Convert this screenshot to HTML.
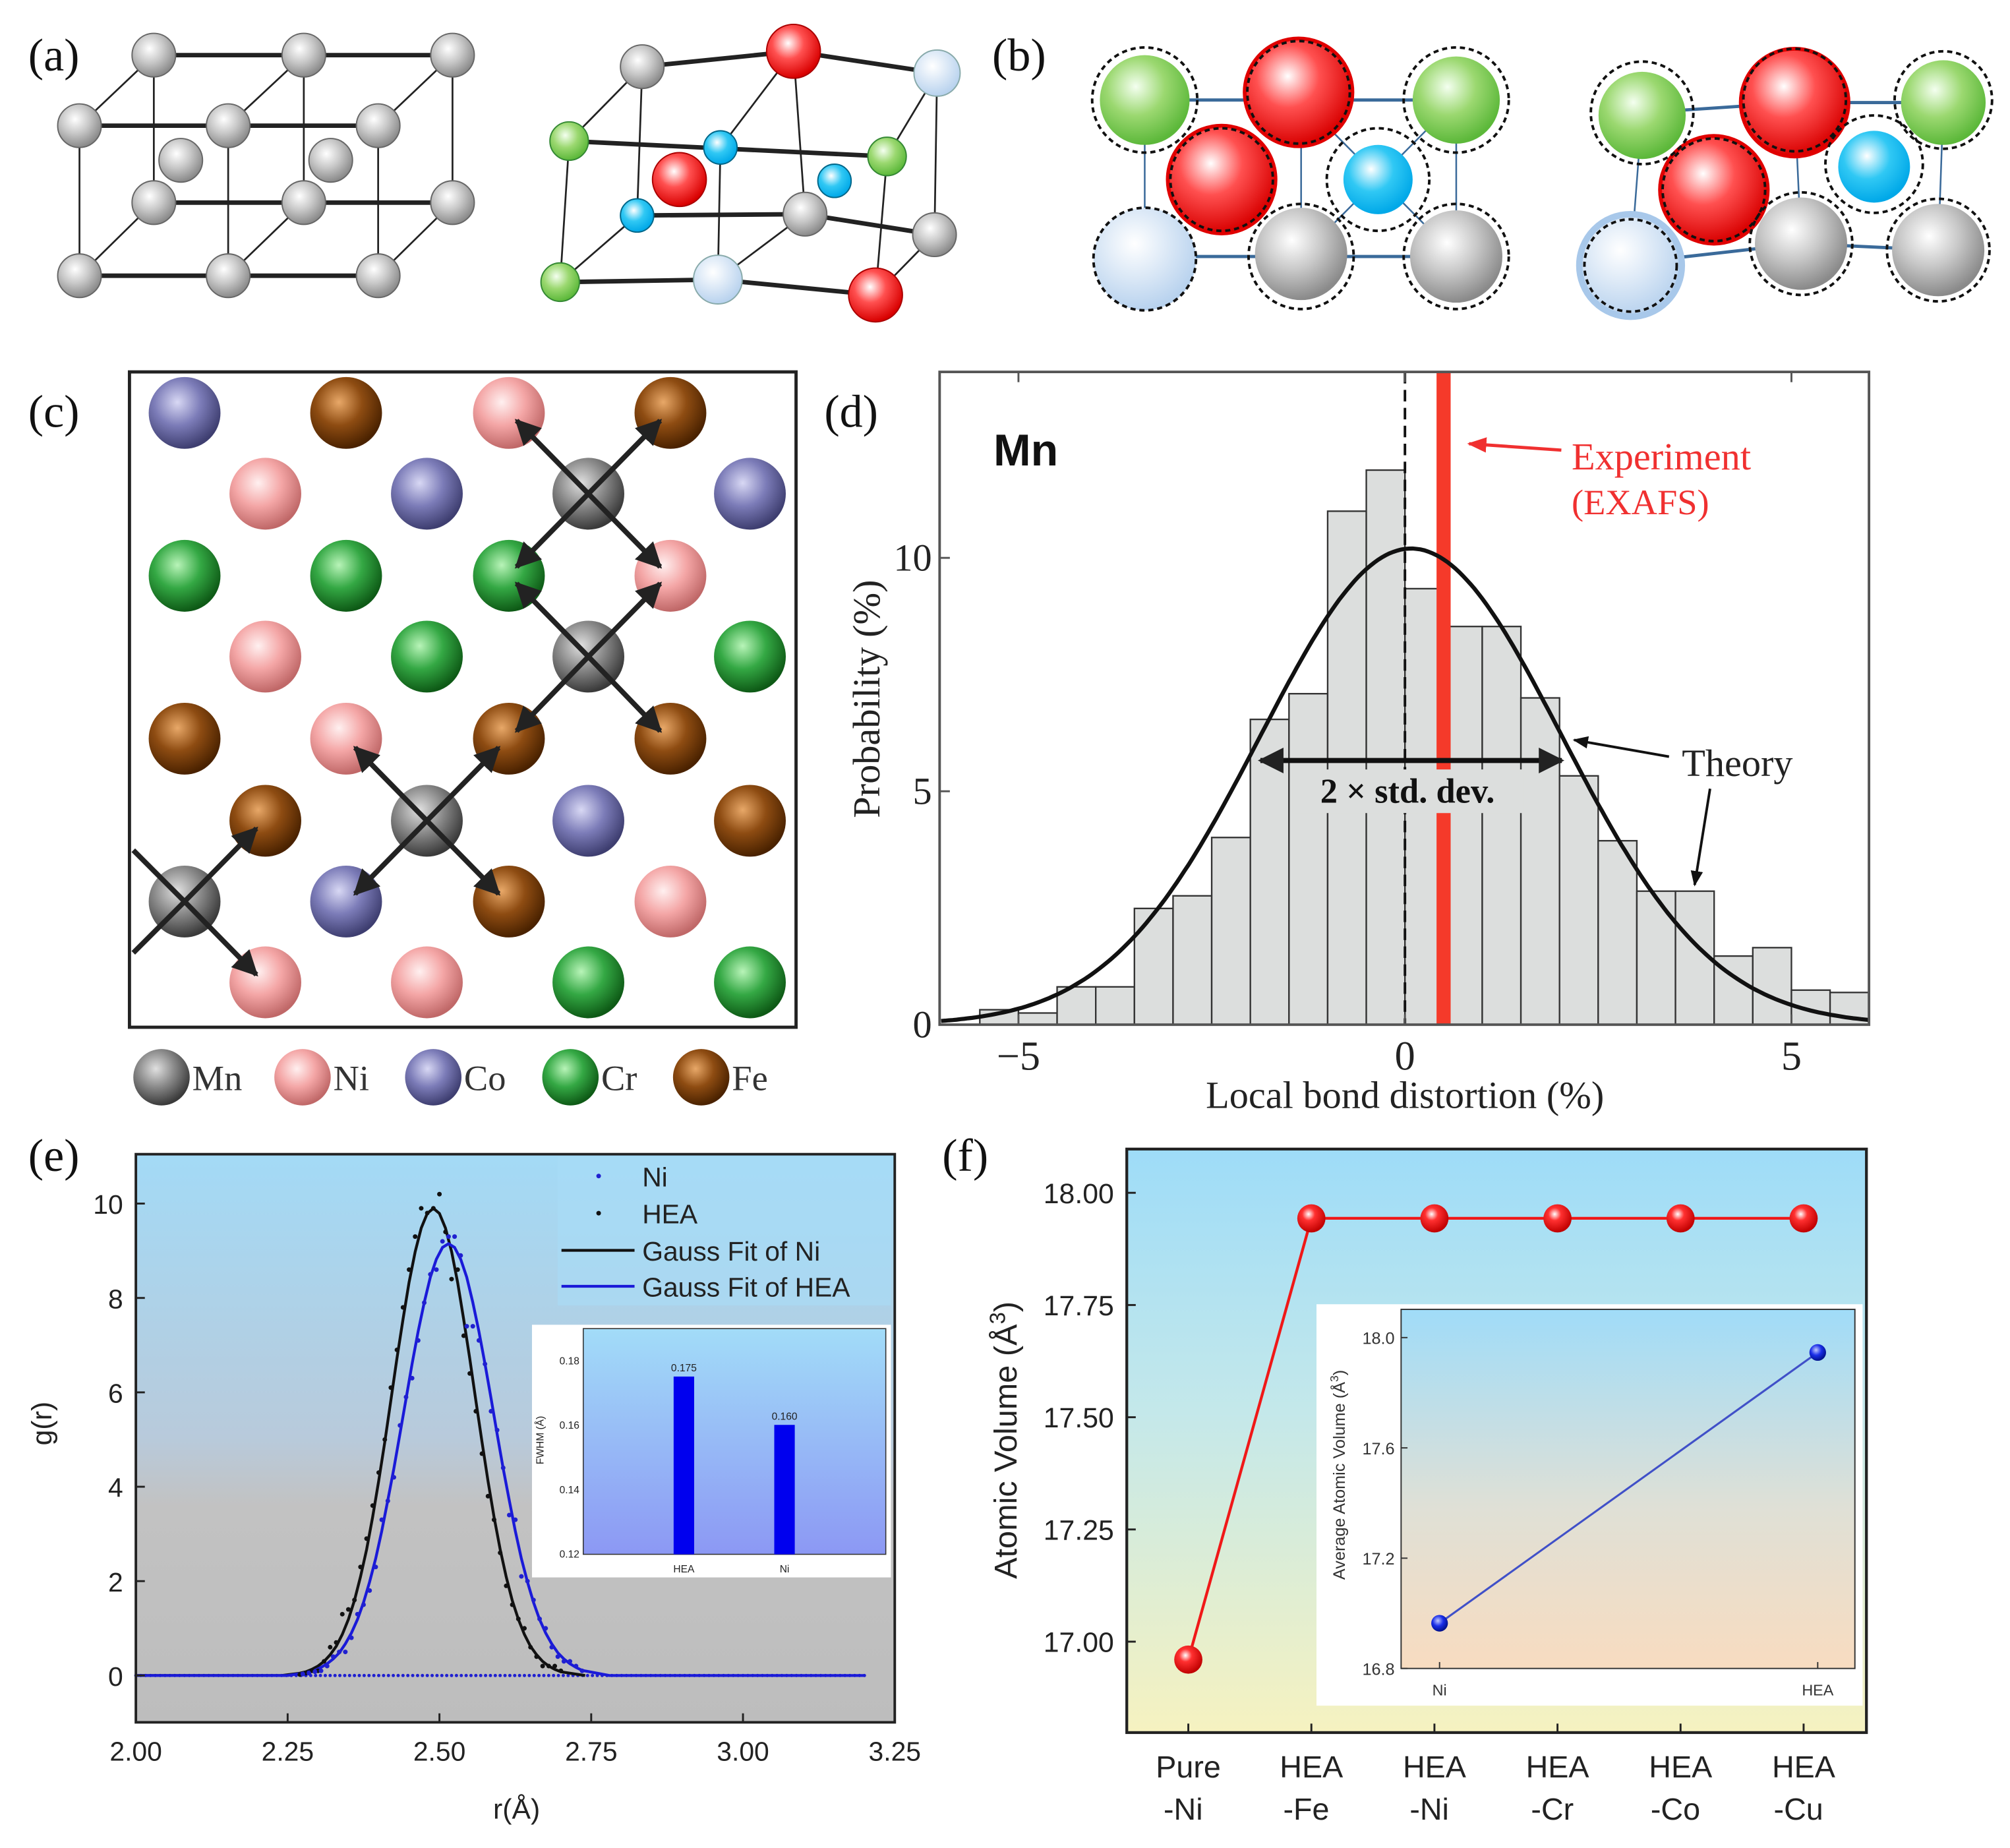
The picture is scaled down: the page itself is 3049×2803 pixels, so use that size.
<!DOCTYPE html>
<html><head><meta charset="utf-8"><title>HEA figure</title>
<style>
html,body{margin:0;padding:0;background:#fff;}
svg{display:block;}
.serif{font-family:"Liberation Serif",serif;}
.sans{font-family:"Liberation Sans",sans-serif;}
</style></head>
<body>
<svg id="fig" xmlns="http://www.w3.org/2000/svg" viewBox="0 0 1568 1441" width="3049" height="2803" preserveAspectRatio="none">
<defs>
<radialGradient id="gGray" cx="40%" cy="35%" r="65%"><stop offset="0" stop-color="#ffffff"/><stop offset="0.5" stop-color="#c8c8c8"/><stop offset="1" stop-color="#8a8a8a"/></radialGradient>
<radialGradient id="gRed" cx="40%" cy="35%" r="65%"><stop offset="0" stop-color="#ffffff"/><stop offset="0.45" stop-color="#ff5050"/><stop offset="1" stop-color="#d80000"/></radialGradient>
<radialGradient id="gLB" cx="40%" cy="35%" r="65%"><stop offset="0" stop-color="#ffffff"/><stop offset="1" stop-color="#b8d2ee"/></radialGradient>
<radialGradient id="gGreen" cx="40%" cy="35%" r="65%"><stop offset="0" stop-color="#f4fff0"/><stop offset="0.5" stop-color="#9bd870"/><stop offset="1" stop-color="#5cb83a"/></radialGradient>
<radialGradient id="gCyan" cx="40%" cy="35%" r="65%"><stop offset="0" stop-color="#ffffff"/><stop offset="0.5" stop-color="#30c8f4"/><stop offset="1" stop-color="#00a8e8"/></radialGradient>
<radialGradient id="cMn" cx="40%" cy="35%" r="65%"><stop offset="0" stop-color="#e0e0e0"/><stop offset="0.5" stop-color="#8a8a8a"/><stop offset="1" stop-color="#3a3a3a"/></radialGradient>
<radialGradient id="cNi" cx="40%" cy="35%" r="65%"><stop offset="0" stop-color="#fff0f0"/><stop offset="0.5" stop-color="#f4a6a6"/><stop offset="1" stop-color="#c06868"/></radialGradient>
<radialGradient id="cCo" cx="40%" cy="35%" r="65%"><stop offset="0" stop-color="#d8d8f4"/><stop offset="0.5" stop-color="#7c7cb8"/><stop offset="1" stop-color="#3e3e70"/></radialGradient>
<radialGradient id="cCr" cx="40%" cy="35%" r="65%"><stop offset="0" stop-color="#b8f4b8"/><stop offset="0.5" stop-color="#34a844"/><stop offset="1" stop-color="#0e5a16"/></radialGradient>
<radialGradient id="cFe" cx="40%" cy="35%" r="65%"><stop offset="0" stop-color="#e8a868"/><stop offset="0.5" stop-color="#8e4c12"/><stop offset="1" stop-color="#4a2200"/></radialGradient>
<radialGradient id="fBall" cx="40%" cy="35%" r="65%"><stop offset="0" stop-color="#ffffff"/><stop offset="0.35" stop-color="#ff3030"/><stop offset="1" stop-color="#c00000"/></radialGradient>
<radialGradient id="fBlue" cx="40%" cy="35%" r="65%"><stop offset="0" stop-color="#c0c8ff"/><stop offset="0.5" stop-color="#1a2ee8"/><stop offset="1" stop-color="#00108a"/></radialGradient>
<linearGradient id="bgE" x1="0" y1="0" x2="0" y2="1"><stop offset="0" stop-color="#a3daf6"/><stop offset="0.5" stop-color="#b8cadb"/><stop offset="0.62" stop-color="#c2c2c2"/><stop offset="1" stop-color="#bdbdbd"/></linearGradient>
<linearGradient id="bgEI" x1="0" y1="0" x2="0" y2="1"><stop offset="0" stop-color="#a2dcf8"/><stop offset="1" stop-color="#8c98f4"/></linearGradient>
<linearGradient id="bgF" x1="0" y1="0" x2="0" y2="1"><stop offset="0" stop-color="#9edcf8"/><stop offset="0.45" stop-color="#c4e8ea"/><stop offset="1" stop-color="#f6f2c0"/></linearGradient>
<linearGradient id="bgFI" x1="0" y1="0" x2="0" y2="1"><stop offset="0" stop-color="#a0dcf8"/><stop offset="0.55" stop-color="#dfe0d6"/><stop offset="1" stop-color="#f8dcc0"/></linearGradient>
<marker id="ah" viewBox="0 0 10 10" refX="9" refY="5" markerWidth="5" markerHeight="5" orient="auto-start-reverse"><path d="M0,0 L10,5 L0,10 z" fill="#222"/></marker>
<marker id="ahR" viewBox="0 0 10 10" refX="9" refY="5" markerWidth="6" markerHeight="6" orient="auto"><path d="M0,1 L10,5 L0,9 z" fill="#f03030"/></marker>
<marker id="ahK" viewBox="0 0 10 10" refX="9" refY="5" markerWidth="6" markerHeight="6" orient="auto"><path d="M0,1 L10,5 L0,9 z" fill="#111"/></marker>
</defs>

<g class="serif" font-size="36" fill="#111">
<text x="22" y="55">(a)</text>
<text x="774" y="55">(b)</text>
<text x="22" y="333">(c)</text>
<text x="643" y="333">(d)</text>
<text x="22" y="913">(e)</text>
<text x="735" y="913">(f)</text>
</g>

<g>
<g stroke="#222" stroke-width="3.5">
<line x1="120" y1="43" x2="353" y2="43"/><line x1="62" y1="98" x2="295" y2="98"/>
<line x1="120" y1="158" x2="353" y2="158"/><line x1="62" y1="215" x2="295" y2="215"/>
</g>
<g stroke="#222" stroke-width="1.4">
<line x1="120" y1="43" x2="120" y2="158"/><line x1="237" y1="43" x2="237" y2="158"/><line x1="353" y1="43" x2="353" y2="158"/>
<line x1="62" y1="98" x2="62" y2="215"/><line x1="178" y1="98" x2="178" y2="215"/><line x1="295" y1="98" x2="295" y2="215"/>
<line x1="120" y1="43" x2="62" y2="98"/><line x1="237" y1="43" x2="178" y2="98"/><line x1="353" y1="43" x2="295" y2="98"/>
<line x1="120" y1="158" x2="62" y2="215"/><line x1="237" y1="158" x2="178" y2="215"/><line x1="353" y1="158" x2="295" y2="215"/>
</g>
<g fill="url(#gGray)" stroke="#666" stroke-width="1">
<circle cx="120" cy="43" r="17"/><circle cx="237" cy="43" r="17"/><circle cx="353" cy="43" r="17"/>
<circle cx="141" cy="125" r="17"/><circle cx="258" cy="125" r="17"/>
<circle cx="62" cy="98" r="17"/><circle cx="178" cy="98" r="17"/><circle cx="295" cy="98" r="17"/>
<circle cx="120" cy="158" r="17"/><circle cx="237" cy="158" r="17"/><circle cx="353" cy="158" r="17"/>
<circle cx="62" cy="215" r="17"/><circle cx="178" cy="215" r="17"/><circle cx="295" cy="215" r="17"/>
</g>
</g>

<g>
<g stroke="#222" stroke-width="3.5" fill="none">
<polyline points="501,52 619,40 731,57"/><line x1="444" y1="110" x2="692" y2="122"/>
<polyline points="497,168 628,167 729,183"/><polyline points="437,220 560,218 683,230"/>
</g>
<g stroke="#222" stroke-width="1.4">
<line x1="501" y1="52" x2="444" y2="110"/><line x1="619" y1="40" x2="562" y2="115"/><line x1="731" y1="57" x2="692" y2="122"/>
<line x1="444" y1="110" x2="437" y2="220"/><line x1="562" y1="115" x2="560" y2="218"/><line x1="692" y1="122" x2="683" y2="230"/>
<line x1="501" y1="52" x2="497" y2="168"/><line x1="619" y1="40" x2="628" y2="167"/><line x1="731" y1="57" x2="729" y2="183"/>
<line x1="497" y1="168" x2="437" y2="220"/><line x1="628" y1="167" x2="560" y2="218"/><line x1="729" y1="183" x2="683" y2="230"/>
</g>
<circle cx="501" cy="52" r="17" fill="url(#gGray)" stroke="#666"/>
<circle cx="619" cy="40" r="21" fill="url(#gRed)" stroke="#a00"/>
<circle cx="731" cy="57" r="18" fill="url(#gLB)" stroke="#8aa"/>
<circle cx="444" cy="110" r="15" fill="url(#gGreen)" stroke="#383"/>
<circle cx="562" cy="115" r="13" fill="url(#gCyan)" stroke="#068"/>
<circle cx="692" cy="122" r="15" fill="url(#gGreen)" stroke="#383"/>
<circle cx="530" cy="140" r="21" fill="url(#gRed)" stroke="#a00"/>
<circle cx="651" cy="141" r="13" fill="url(#gCyan)" stroke="#068"/>
<circle cx="497" cy="168" r="13" fill="url(#gCyan)" stroke="#068"/>
<circle cx="628" cy="167" r="17" fill="url(#gGray)" stroke="#666"/>
<circle cx="729" cy="183" r="17" fill="url(#gGray)" stroke="#666"/>
<circle cx="437" cy="220" r="15" fill="url(#gGreen)" stroke="#383"/>
<circle cx="560" cy="218" r="19" fill="url(#gLB)" stroke="#8aa"/>
<circle cx="683" cy="230" r="21" fill="url(#gRed)" stroke="#a00"/>
</g>

<g>
<g stroke="#3a6a9a" stroke-width="2.5">
<line x1="893" y1="78" x2="1136" y2="78"/><line x1="893" y1="200" x2="1136" y2="200"/>
</g>
<g stroke="#3a6a9a" stroke-width="1.3">
<line x1="893" y1="78" x2="893" y2="200"/><line x1="1015" y1="78" x2="1015" y2="200"/><line x1="1136" y1="78" x2="1136" y2="200"/>
<line x1="1015" y1="78" x2="1136" y2="200"/><line x1="1136" y1="78" x2="1015" y2="200"/>
</g>
<circle cx="893" cy="202" r="40" fill="url(#gLB)"/>
<circle cx="1015" cy="198" r="36" fill="url(#gGray)"/>
<circle cx="1136" cy="200" r="36" fill="url(#gGray)"/>
<circle cx="893" cy="78" r="35" fill="url(#gGreen)"/>
<circle cx="1136" cy="78" r="34" fill="url(#gGreen)"/>
<circle cx="1075" cy="140" r="27" fill="url(#gCyan)"/>
<circle cx="1013" cy="72" r="42" fill="url(#gRed)" stroke="#e00000" stroke-width="3"/>
<circle cx="953" cy="140" r="42" fill="url(#gRed)" stroke="#e00000" stroke-width="3"/>
<g fill="none" stroke="#111" stroke-width="2" stroke-dasharray="4,3">
<circle cx="893" cy="78" r="41"/><circle cx="1013" cy="72" r="40"/><circle cx="1136" cy="78" r="41"/>
<circle cx="953" cy="140" r="40"/><circle cx="1075" cy="140" r="40"/>
<circle cx="893" cy="202" r="40"/><circle cx="1015" cy="200" r="41"/><circle cx="1136" cy="200" r="41"/>
</g>
</g>
<g>
<g stroke="#3a6a9a" stroke-width="2.5">
<polyline fill="none" points="1281,88 1400,80 1516,80"/><polyline fill="none" points="1272,205 1405,190 1512,195"/>
</g>
<g stroke="#3a6a9a" stroke-width="1.3">
<line x1="1281" y1="88" x2="1272" y2="205"/><line x1="1400" y1="80" x2="1405" y2="190"/><line x1="1516" y1="80" x2="1512" y2="195"/>
</g>
<circle cx="1272" cy="207" r="40" fill="url(#gLB)" stroke="#a8c8ea" stroke-width="5"/>
<circle cx="1405" cy="190" r="36" fill="url(#gGray)"/>
<circle cx="1512" cy="195" r="36" fill="url(#gGray)"/>
<circle cx="1281" cy="90" r="34" fill="url(#gGreen)"/>
<circle cx="1516" cy="80" r="33" fill="url(#gGreen)"/>
<circle cx="1462" cy="130" r="28" fill="url(#gCyan)"/>
<circle cx="1400" cy="80" r="42" fill="url(#gRed)" stroke="#e00000" stroke-width="3"/>
<circle cx="1337" cy="148" r="42" fill="url(#gRed)" stroke="#e00000" stroke-width="3"/>
<g fill="none" stroke="#111" stroke-width="2" stroke-dasharray="4,3">
<circle cx="1281" cy="88" r="40"/><circle cx="1400" cy="78" r="40"/><circle cx="1516" cy="78" r="38"/>
<circle cx="1337" cy="148" r="40"/><circle cx="1462" cy="128" r="38"/>
<circle cx="1272" cy="207" r="36"/><circle cx="1405" cy="190" r="40"/><circle cx="1512" cy="195" r="40"/>
</g>
</g>

<g>
<rect x="101" y="290" width="520" height="511" fill="#fff" stroke="#222" stroke-width="2.5"/>
<g id="cAtoms"></g>
<g id="cArrows" stroke="#222" stroke-width="4" marker-end="url(#ah)"></g>
</g>
<g id="cLegend" class="serif" font-size="28" fill="#333"></g>

<g id="panelD"></g>
<g id="panelE"></g>
<g id="panelF"></g>
</svg>

<script>
const cRows = [322, 385, 449, 512, 576, 640, 703, 766];
const cAtomsByRow = [
  ["Co","Fe","Ni","Fe"],
  ["Ni","Co","Mn","Co"],
  ["Cr","Cr","Cr","Ni"],
  ["Ni","Cr","Mn","Cr"],
  ["Fe","Ni","Fe","Fe"],
  ["Fe","Mn","Co","Fe"],
  ["Mn","Co","Fe","Ni"],
  ["Ni","Ni","Cr","Cr"]
];
const cLegendElems = ["Mn","Ni","Co","Cr","Fe"];

const dBinLeft = [-5.5,-5,-4.5,-4,-3.5,-3,-2.5,-2,-1.5,-1,-0.5,0,0.5,1,1.5,2,2.5,3,3.5,4,4.5,5,5.5];
const dProb = [0.32,0.25,0.81,0.81,2.49,2.76,4.01,6.54,7.09,11.0,11.88,9.34,8.53,8.53,7.0,5.33,3.94,2.86,2.86,1.47,1.65,0.74,0.69];
const dTheoryMean = [0.08];
const dTheorySd = [1.95];
const dTheoryPeak = [10.2];
const dExperiment = [0.5];
const dXTicks = [-5, 0, 5];
const dXTickLabels = ["\u22125","0","5"];
const dYTicks = [0, 5, 10];

const eNiR = [2.27,2.28,2.29,2.30,2.31,2.32,2.33,2.34,2.35,2.36,2.37,2.38,2.39,2.40,2.41,2.42,2.43,2.44,2.45,2.46,2.47,2.48,2.49,2.50,2.51,2.52,2.53,2.54,2.55,2.56,2.57,2.58,2.59,2.60,2.61,2.62,2.63,2.64,2.65,2.66,2.67,2.68,2.69,2.70];
const eNiFit = [0.05,0.08,0.13,0.20,0.30,0.44,0.62,0.87,1.19,1.59,2.09,2.67,3.36,4.12,4.95,5.83,6.71,7.55,8.33,8.98,9.48,9.79,9.90,9.79,9.48,8.98,8.33,7.55,6.71,5.83,4.95,4.12,3.36,2.67,2.09,1.59,1.19,0.87,0.62,0.44,0.30,0.20,0.13,0.08];
const eNiDots = [0.02,0.05,0.10,0.10,0.30,0.60,0.70,1.30,1.40,1.60,2.30,2.90,3.60,4.30,5.00,6.10,6.90,7.80,8.60,9.30,9.90,9.80,9.90,10.20,9.40,8.40,8.60,7.20,6.40,5.60,4.70,3.80,3.30,2.60,1.90,1.50,1.20,1.00,0.60,0.40,0.20,0.20,0.20,0.10];
const eHeaR = [2.275,2.285,2.295,2.305,2.315,2.325,2.335,2.345,2.355,2.365,2.375,2.385,2.395,2.405,2.415,2.425,2.435,2.445,2.455,2.465,2.475,2.485,2.495,2.505,2.515,2.525,2.535,2.545,2.555,2.565,2.575,2.585,2.595,2.605,2.615,2.625,2.635,2.645,2.655,2.665,2.675,2.685,2.695,2.705,2.715,2.725,2.735];
const eHeaFit = [0.05,0.076,0.11,0.17,0.25,0.35,0.48,0.67,0.90,1.19,1.55,1.98,2.48,3.06,3.71,4.39,5.12,5.87,6.61,7.29,7.91,8.44,8.82,9.07,9.15,9.07,8.82,8.44,7.91,7.29,6.61,5.87,5.12,4.39,3.71,3.06,2.48,1.98,1.55,1.19,0.90,0.67,0.48,0.35,0.25,0.17,0.11];
const eHeaDots = [0.03,0.05,0.08,0.10,0.20,0.40,0.50,0.50,0.80,1.30,1.50,1.80,2.30,3.30,3.70,4.20,5.30,5.90,6.30,7.10,7.90,8.50,8.60,9.20,9.30,9.30,8.90,7.40,7.40,7.10,6.60,5.60,5.20,4.40,3.40,3.30,2.10,2.00,1.60,1.20,1.00,0.60,0.40,0.30,0.30,0.20,0.10];
const eXTicks = [2.00,2.25,2.50,2.75,3.00,3.25];
const eXTickLabels = ["2.00","2.25","2.50","2.75","3.00","3.25"];
const eYTicks = [0,2,4,6,8,10];
const eInsetCats = ["HEA","Ni"];
const eInsetFwhm = [0.175, 0.160];
const eInsetYTicks = [0.12,0.14,0.16,0.18];

const fCats = [["Pure","-Ni"],["HEA","-Fe"],["HEA","-Ni"],["HEA","-Cr"],["HEA","-Co"],["HEA","-Cu"]];
const fVolumes = [16.96, 17.943, 17.943, 17.943, 17.943, 17.943];
const fYTicks = [17.00,17.25,17.50,17.75,18.00];
const fYTickLabels = ["17.00","17.25","17.50","17.75","18.00"];
const fInsetCats = ["Ni","HEA"];
const fInsetVols = [16.964, 17.946];
const fInsetYTicks = [16.8,17.2,17.6,18.0];
const fInsetYTickLabels = ["16.8","17.2","17.6","18.0"];

const NS = "http://www.w3.org/2000/svg";
function mk(tag, attrs, parent){ const e = document.createElementNS(NS, tag); for (const k in attrs) e.setAttribute(k, attrs[k]); parent.appendChild(e); return e; }
function tx(str, attrs, parent){ const e = mk("text", attrs, parent); e.textContent = str; return e; }

(function(){
  const g = document.getElementById("cAtoms");
  const xsEven = [144, 270, 397, 523], xsOdd = [207, 333, 459, 585];
  cAtomsByRow.forEach((row, ri) => {
    const xs = (ri % 2 === 0) ? xsEven : xsOdd;
    row.forEach((el, ci) => {
      const c = mk("circle", {cx: xs[ci], cy: cRows[ri], r: 28, fill: "url(#c" + el + ")"}, g);
      
      
    });
  });
  const a = document.getElementById("cArrows");
  const arrows = [
    [459,385,403,328],[459,385,515,328],[459,385,403,442],[459,385,515,442],
    [459,512,403,455],[459,512,515,455],[459,512,403,570],[459,512,515,570],
    [333,640,277,583],[333,640,389,583],[333,640,277,697],[333,640,389,697],
    [144,703,200,646],[144,703,200,760]
  ];
  arrows.forEach(p => {
    const l = mk("line", {x1:p[0], y1:p[1], x2:p[2], y2:p[3]}, a);
    
    
  });
  const l1 = mk("line", {x1:144, y1:703, x2:104, y2:663, "marker-end":"none"}, a);
  
  
  const l2 = mk("line", {x1:144, y1:703, x2:104, y2:743, "marker-end":"none"}, a);
  
  
  const lg = document.getElementById("cLegend");
  const lx = [126, 236, 338, 445, 547];
  cLegendElems.forEach((el, i) => {
    const c = mk("circle", {cx: lx[i], cy: 840, r: 22, fill: "url(#c" + el + ")"}, lg);
    
    
    const t = tx(el, {x: lx[i] + 24, y: 850}, lg);
    
    
  });
})();

(function(){
  const g = document.getElementById("panelD");
  const X0 = 733, X1 = 1458, Y0 = 290, Y1 = 799;
  const xD = v => 1096 + v * 60.3;
  const yD = v => 799 - v * 36.4;
  const bg = mk("rect", {x:X0, y:Y0, width:X1-X0, height:Y1-Y0, fill:"#fff"}, g);
  
  
  dBinLeft.forEach((b, i) => {
    const w = 0.5;
    const r = mk("rect", {x: xD(b), y: yD(dProb[i]), width: xD(b + w) - xD(b), height: yD(0) - yD(dProb[i]), fill:"#dcdedd", stroke:"#333", "stroke-width":1.2}, g);
    
    
  });
  const ex = mk("rect", {x: xD(dExperiment[0]) - 5.5, y: Y0, width: 11, height: Y1 - Y0, fill:"#f53a2a"}, g);
  
  
  const zl = mk("line", {x1: xD(0), y1: Y0, x2: xD(0), y2: Y1, stroke:"#111", "stroke-width":2, "stroke-dasharray":"9,5"}, g);
  
  
  let pts = [];
  for (let v = -6; v <= 6.001; v += 0.05) {
    const y = dTheoryPeak[0] * Math.exp(-Math.pow(v - dTheoryMean[0], 2) / (2 * dTheorySd[0] * dTheorySd[0]));
    pts.push(xD(v).toFixed(1) + "," + yD(y).toFixed(1));
  }
  const th = mk("polyline", {points: pts.join(" "), fill:"none", stroke:"#111", "stroke-width":3.2}, g);
  
  
  const fr = mk("rect", {x:X0, y:Y0, width:X1-X0, height:Y1-Y0, fill:"none", stroke:"#555", "stroke-width":2}, g);
  
  
  dXTicks.forEach((t, i) => {
    const tk = mk("line", {x1:xD(t), y1:Y1, x2:xD(t), y2:Y1-8, stroke:"#555", "stroke-width":1.5}, g);
    
    
    const tk2 = mk("line", {x1:xD(t), y1:Y0, x2:xD(t), y2:Y0+8, stroke:"#555", "stroke-width":1.5}, g);
    
    
    const l = tx(dXTickLabels[i], {x:xD(t), y:834, "text-anchor":"middle", "font-size":32, fill:"#222", class:"serif"}, g);
    
    
  });
  dYTicks.forEach(t => {
    const tk = mk("line", {x1:X0, y1:yD(t), x2:X0+8, y2:yD(t), stroke:"#555", "stroke-width":1.5}, g);
    
    
    const l = tx(String(t), {x:727, y:yD(t)+10, "text-anchor":"end", "font-size":30, fill:"#222", class:"serif"}, g);
    
    
  });
  const xl = tx("Local bond distortion (%)", {x:1096, y:864, "text-anchor":"middle", "font-size":30, fill:"#222", class:"serif"}, g);
  
  
  const yl = tx("Probability (%)", {x:0, y:0, transform:"translate(686,545) rotate(-90)", "text-anchor":"middle", "font-size":30, fill:"#222", class:"serif"}, g);
  
  
  const mn = tx("Mn", {x:775, y:363, "font-size":35, "font-weight":"bold", fill:"#111", class:"sans"}, g);
  
  
  const ea = mk("line", {x1:1218, y1:351, x2:1146, y2:346, stroke:"#f03030", "stroke-width":2.5, "marker-end":"url(#ahR)"}, g);
  
  
  const et = tx("Experiment", {x:1226, y:366, "font-size":30, fill:"#f03030", class:"serif"}, g);
  
  
  const et2 = tx("(EXAFS)", {x:1226, y:401, "font-size":28, fill:"#f03030", class:"serif"}, g);
  
  
  const sdBox = mk("rect", {x:1008, y:600, width:180, height:34, fill:"#dcdedd"}, g);
  
  
  const sd = mk("line", {x1: xD(dTheoryMean[0]-dTheorySd[0]) , y1:593, x2: xD(dTheoryMean[0]+dTheorySd[0]), y2:593, stroke:"#111", "stroke-width":4, "marker-end":"url(#ah)", "marker-start":"url(#ah)"}, g);
  
  
  const sdt = tx("2 \u00d7 std. dev.", {x:1098, y:626, "text-anchor":"middle", "font-size":27, "font-weight":"bold", fill:"#111", class:"serif"}, g);
  
  
  const tt = tx("Theory", {x:1312, y:605, "font-size":30, fill:"#222", class:"serif"}, g);
  
  
  const ta1 = mk("line", {x1:1302, y1:590, x2:1228, y2:577, stroke:"#111", "stroke-width":2, "marker-end":"url(#ahK)"}, g);
  
  
  const ta2 = mk("line", {x1:1334, y1:615, x2:1322, y2:690, stroke:"#111", "stroke-width":2, "marker-end":"url(#ahK)"}, g);
  
  
})();

(function(){
  const g = document.getElementById("panelE");
  const X0 = 106, X1 = 698, Y0 = 900, Y1 = 1343;
  const xE = v => 106 + (v - 2) * 473.6;
  const yE = v => 1306.5 - v * 36.8;
  const bg = mk("rect", {x:X0, y:Y0, width:X1-X0, height:Y1-Y0, fill:"url(#bgE)"}, g);
  
  
  for (let r = 2.0; r <= 3.2001; r += 0.008) {
    const d = mk("circle", {cx:xE(r), cy:yE(0), r:1.3, fill:"#2020d0"}, g);
    
    
  }
  const niPts = [xE(2.0)+","+yE(0), xE(2.24)+","+yE(0)].concat(eNiR.map((r,i)=>xE(r).toFixed(1)+","+yE(eNiFit[i]).toFixed(1))).concat([xE(2.74)+","+yE(0)]);
  const niL = mk("polyline", {points: niPts.join(" "), fill:"none", stroke:"#111", "stroke-width":2.2}, g);
  
  
  const heaPts = [xE(2.0)+","+yE(0), xE(2.25)+","+yE(0)].concat(eHeaR.map((r,i)=>xE(r).toFixed(1)+","+yE(eHeaFit[i]).toFixed(1))).concat([xE(2.78)+","+yE(0), xE(3.2)+","+yE(0)]);
  const heaL = mk("polyline", {points: heaPts.join(" "), fill:"none", stroke:"#1a1ad8", "stroke-width":2.2}, g);
  
  
  eNiR.forEach((r, i) => {
    const d = mk("circle", {cx:xE(r), cy:yE(eNiDots[i]), r:1.8, fill:"#111"}, g);
    
    
  });
  eHeaR.forEach((r, i) => {
    const d = mk("circle", {cx:xE(r), cy:yE(eHeaDots[i]), r:1.8, fill:"#2020d0"}, g);
    
    
  });
  const fr = mk("rect", {x:X0, y:Y0, width:X1-X0, height:Y1-Y0, fill:"none", stroke:"#222", "stroke-width":2}, g);
  
  
  eXTicks.forEach((t, i) => {
    const tk = mk("line", {x1:xE(t), y1:Y1, x2:xE(t), y2:Y1-7, stroke:"#222", "stroke-width":1.5}, g);
    
    
    const l = tx(eXTickLabels[i], {x:xE(t), y:1373, "text-anchor":"middle", "font-size":21, fill:"#222", class:"sans"}, g);
    
    
  });
  eYTicks.forEach(t => {
    const tk = mk("line", {x1:X0, y1:yE(t), x2:X0+7, y2:yE(t), stroke:"#222", "stroke-width":1.5}, g);
    
    
    const l = tx(String(t), {x:96, y:yE(t)+8, "text-anchor":"end", "font-size":21, fill:"#222", class:"sans"}, g);
    
    
  });
  const xl = tx("r(\u00c5)", {x:403, y:1418, "text-anchor":"middle", "font-size":22, fill:"#222", class:"sans"}, g);
  
  
  const yl = tx("g(r)", {x:0, y:0, transform:"translate(40,1110) rotate(-90)", "text-anchor":"middle", "font-size":22, fill:"#222", class:"sans"}, g);
  
  
  const lgBox = mk("rect", {x:435, y:902, width:260, height:116, fill:"#a8dcf6", opacity:0.6}, g);
  
  
  const ld1 = mk("circle", {cx:467, cy:917, r:1.8, fill:"#2020d0"}, g);
  
  
  const lt1 = tx("Ni", {x:501, y:925, "font-size":21, fill:"#222", class:"sans"}, g);
  
  
  const ld2 = mk("circle", {cx:467, cy:946, r:1.8, fill:"#111"}, g);
  
  
  const lt2 = tx("HEA", {x:501, y:954, "font-size":21, fill:"#222", class:"sans"}, g);
  
  
  const ll3 = mk("line", {x1:438, y1:975, x2:495, y2:975, stroke:"#111", "stroke-width":2.2}, g);
  
  
  const lt3 = tx("Gauss Fit of Ni", {x:501, y:983, "font-size":21, fill:"#222", class:"sans"}, g);
  
  
  const ll4 = mk("line", {x1:438, y1:1003, x2:495, y2:1003, stroke:"#1a1ad8", "stroke-width":2.2}, g);
  
  
  const lt4 = tx("Gauss Fit of HEA", {x:501, y:1011, "font-size":21, fill:"#222", class:"sans"}, g);
  
  
  const inG = mk("g", {}, g);
  
  
  const wb = mk("rect", {x:415, y:1033, width:280, height:197, fill:"#fff"}, inG);
  
  
  const IX0 = 455, IX1 = 691, IY0 = 1036, IY1 = 1212;
  const yI = v => 1211.6 - (v - 0.12) * 2513;
  const catX = [533.5, 612];
  const ib = mk("rect", {x:IX0, y:IY0, width:IX1-IX0, height:IY1-IY0, fill:"url(#bgEI)", stroke:"#333", "stroke-width":0.8}, inG);
  
  
  eInsetCats.forEach((c, i) => {
    const b = mk("rect", {x:catX[i]-8, y:yI(eInsetFwhm[i]), width:16, height:IY1 - yI(eInsetFwhm[i]), fill:"#0000ee"}, inG);
    
    
    const v = tx(eInsetFwhm[i].toFixed(3), {x:catX[i], y:yI(eInsetFwhm[i]) - 4, "text-anchor":"middle", "font-size":8, fill:"#222", class:"sans"}, inG);
    
    
    const cl = tx(c, {x:catX[i], y:1226, "text-anchor":"middle", "font-size":8, fill:"#222", class:"sans"}, inG);
    
    
  });
  eInsetYTicks.forEach(t => {
    const l = tx(t.toFixed(2), {x:452, y:yI(t)+3, "text-anchor":"end", "font-size":8, fill:"#222", class:"sans"}, inG);
    
    
  });
  const iy = tx("FWHM (\u00c5)", {x:0, y:0, transform:"translate(424,1123) rotate(-90)", "text-anchor":"middle", "font-size":8, fill:"#222", class:"sans"}, inG);
  
  
})();

(function(){
  const g = document.getElementById("panelF");
  const X0 = 879, X1 = 1456, Y0 = 896, Y1 = 1351;
  const xF = i => 927 + i * 96;
  const yF = v => 1280.1 - (v - 17) * 350;
  const bg = mk("rect", {x:X0, y:Y0, width:X1-X0, height:Y1-Y0, fill:"url(#bgF)"}, g);
  
  
  const ln = mk("polyline", {points: fVolumes.map((v,i)=>xF(i)+","+yF(v).toFixed(1)).join(" "), fill:"none", stroke:"#f01818", "stroke-width":2.2}, g);
  
  
  fVolumes.forEach((v, i) => {
    const c = mk("circle", {cx:xF(i), cy:yF(v), r:11, fill:"url(#fBall)"}, g);
    
    
  });
  const inG = mk("g", {}, g);
  
  
  const wb = mk("rect", {x:1027, y:1017, width:426, height:313, fill:"#fff"}, inG);
  
  
  const IX0 = 1093, IX1 = 1447, IY0 = 1021, IY1 = 1301;
  const yFI = v => 1301 - (v - 16.8) * 215;
  const ixs = [1123, 1418];
  const ib = mk("rect", {x:IX0, y:IY0, width:IX1-IX0, height:IY1-IY0, fill:"url(#bgFI)", stroke:"#333", "stroke-width":1}, inG);
  
  
  const il = mk("polyline", {points: fInsetVols.map((v,i)=>ixs[i]+","+yFI(v).toFixed(1)).join(" "), fill:"none", stroke:"#4050c8", "stroke-width":1.6}, inG);
  
  
  fInsetVols.forEach((v, i) => {
    const c = mk("circle", {cx:ixs[i], cy:yFI(v), r:6.5, fill:"url(#fBlue)"}, inG);
    
    
    const tk = mk("line", {x1:ixs[i], y1:IY1, x2:ixs[i], y2:IY1-5, stroke:"#333", "stroke-width":1}, inG);
    
    
    const l = tx(fInsetCats[i], {x:ixs[i], y:1322, "text-anchor":"middle", "font-size":12, fill:"#333", class:"sans"}, inG);
    
    
  });
  fInsetYTicks.forEach((t, i) => {
    const tk = mk("line", {x1:IX0, y1:yFI(t), x2:IX0+5, y2:yFI(t), stroke:"#333", "stroke-width":1}, inG);
    
    
    const l = tx(fInsetYTickLabels[i], {x:1088, y:yFI(t)+5, "text-anchor":"end", "font-size":13, fill:"#333", class:"sans"}, inG);
    
    
  });
  const iy = tx("Average Atomic Volume (\u00c5", {x:0, y:0, transform:"translate(1049,1150) rotate(-90)", "text-anchor":"middle", "font-size":13, fill:"#333", class:"sans"}, inG);
  
  
  const sup1 = mk("tspan", {"font-size":9, dy:-5}, iy); sup1.textContent = "3";
  const sup1b = mk("tspan", {dy:5}, iy); sup1b.textContent = ")";
  const fr = mk("rect", {x:X0, y:Y0, width:X1-X0, height:Y1-Y0, fill:"none", stroke:"#222", "stroke-width":2.2}, g);
  
  
  fYTicks.forEach((t, i) => {
    const tk = mk("line", {x1:X0, y1:yF(t), x2:X0+7, y2:yF(t), stroke:"#222", "stroke-width":1.5}, g);
    
    
    const l = tx(fYTickLabels[i], {x:869, y:yF(t)+8, "text-anchor":"end", "font-size":22, fill:"#222", class:"sans"}, g);
    
    
  });
  fCats.forEach((c, i) => {
    const tk = mk("line", {x1:xF(i), y1:Y1, x2:xF(i), y2:Y1-7, stroke:"#222", "stroke-width":1.5}, g);
    
    
    const l1 = tx(c[0], {x:xF(i), y:1386, "text-anchor":"middle", "font-size":24, fill:"#222", class:"sans"}, g);
    
    
    const l2 = tx(c[1], {x:xF(i)-4, y:1419, "text-anchor":"middle", "font-size":24, fill:"#222", class:"sans"}, g);
    
    
  });
  const yl = tx("Atomic Volume (\u00c5", {x:0, y:0, transform:"translate(793,1123) rotate(-90)", "text-anchor":"middle", "font-size":25, fill:"#222", class:"sans"}, g);
  
  
  const s1 = mk("tspan", {"font-size":17, dy:-9}, yl); s1.textContent = "3";
  const s2 = mk("tspan", {dy:9}, yl); s2.textContent = ")";
})();
</script>
</body></html>
